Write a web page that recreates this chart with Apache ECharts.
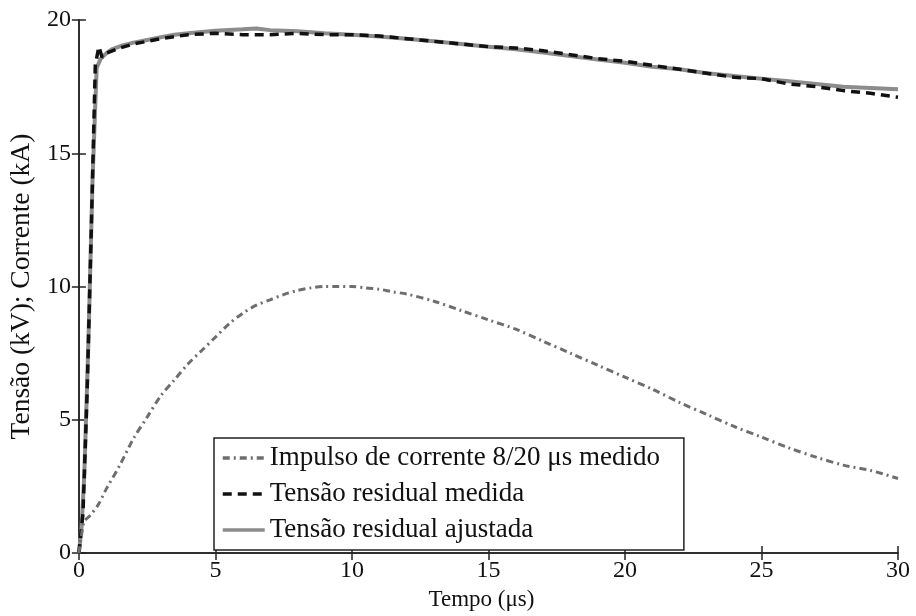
<!DOCTYPE html>
<html>
<head>
<meta charset="utf-8">
<script src="https://cdn.jsdelivr.net/npm/echarts@6/dist/echarts.min.js"></script>
<style>
  html, body { margin: 0; padding: 0; background: #fff; }
  #chart { width: 916px; height: 616px; }
</style>
</head>
<body>
<div id="chart"></div>
<script>
// Impulso de corrente 8/20 us (kA)
const currentTime = [0, 0.1, 0.2, 0.4, 0.7, 1, 1.5, 2, 2.5, 3, 3.5, 4, 4.5, 5, 5.5, 6, 6.5, 7, 7.5, 8, 8.5, 9, 9.5, 10, 10.5, 11, 11.5, 12, 13, 14, 15, 16, 17, 18, 19, 20, 21, 22, 23, 24, 25, 26, 27, 28, 29, 30]
const currentValues = [0, 0.7, 1.2, 1.4, 1.8, 2.4, 3.3, 4.3, 5.1, 5.9, 6.5, 7.1, 7.6, 8.1, 8.6, 9.0, 9.3, 9.5, 9.7, 9.85, 9.95, 10.0, 10.0, 10.0, 9.95, 9.9, 9.8, 9.72, 9.45, 9.1, 8.75, 8.4, 7.95, 7.5, 7.05, 6.6, 6.15, 5.65, 5.2, 4.75, 4.35, 3.95, 3.6, 3.3, 3.1, 2.8]

// Tensao residual medida (kV)
const measuredTime = [0, 0.15, 0.3, 0.45, 0.6, 0.73, 0.85, 1, 1.5, 2, 2.5, 3, 4, 5, 6, 7, 8, 9, 10, 11, 12, 13, 14, 15, 16, 17, 18, 19, 20, 21, 22, 23, 24, 25, 26, 27, 28, 29, 30]
const measuredValues = [0, 1.5, 6, 12, 18.3, 19.0, 18.6, 18.75, 18.95, 19.1, 19.2, 19.3, 19.45, 19.5, 19.45, 19.45, 19.5, 19.45, 19.45, 19.4, 19.3, 19.2, 19.1, 19.0, 18.95, 18.85, 18.7, 18.55, 18.45, 18.3, 18.15, 18.0, 17.85, 17.8, 17.6, 17.5, 17.35, 17.25, 17.1]

// Tensao residual ajustada (kV)
const fittedTime = [0, 0.1, 0.2, 0.35, 0.5, 0.65, 0.8, 1, 1.2, 1.6, 2, 2.5, 3, 3.5, 4, 5, 6, 6.5, 7, 8, 9, 10, 11, 12, 13, 14, 15, 16, 17, 18, 19, 20, 21, 22, 23, 24, 25, 26, 27, 28, 29, 30]
const fittedValues = [0, 1, 3, 8, 14, 18.2, 18.55, 18.75, 18.9, 19.05, 19.15, 19.25, 19.35, 19.45, 19.5, 19.6, 19.65, 19.68, 19.62, 19.58, 19.5, 19.45, 19.38, 19.3, 19.2, 19.1, 19.0, 18.9, 18.78, 18.65, 18.52, 18.4, 18.25, 18.15, 18.0, 17.9, 17.8, 17.7, 17.6, 17.5, 17.45, 17.4]

const seriesNames = ['Impulso de corrente 8/20 μs medido', 'Tensão residual medida', 'Tensão residual ajustada']

function pairs(xs, ys) {
  return xs.map((x, i) => [x, ys[i]])
}

const font = 'Liberation Serif'
const axisLineStyle = { color: '#222', width: 1.5 }

const chart = echarts.init(document.getElementById('chart'))
chart.setOption({
  backgroundColor: '#fff',
  animation: false,
  textStyle: { fontFamily: font, color: '#111' },
  grid: { left: 77, top: 20, right: 18, bottom: 56 },
  legend: {
    data: seriesNames,
    orient: 'vertical',
    left: 214,
    top: 438,
    padding: [5, 24, 5, 7],
    itemWidth: 42,
    itemHeight: 14,
    itemGap: 6,
    borderColor: '#222',
    borderWidth: 1.5,
    backgroundColor: '#fff',
    // only the line sample, no marker
    itemStyle: { opacity: 0 },
    lineStyle: { width: 3.5 },
    textStyle: { fontFamily: font, fontSize: 27, lineHeight: 30, color: '#111' }
  },
  xAxis: [{
    type: 'value',
    min: 0,
    max: 30,
    interval: 5,
    name: 'Tempo (μs)',
    nameLocation: 'middle',
    nameGap: 32,
    nameTextStyle: { fontFamily: font, fontSize: 23, color: '#111', padding: [0, 14, 0, 0] },
    axisLine: { lineStyle: axisLineStyle },
    axisTick: { inside: true, length: 7, lineStyle: axisLineStyle },
    axisLabel: { fontFamily: font, fontSize: 24, color: '#111', margin: 6 },
    splitLine: { show: false }
  }, {
    type: 'value',
    position: 'top',
    min: 0,
    max: 30,
    interval: 5,
    axisLine: { show: true, lineStyle: axisLineStyle },
    axisTick: { show: true, inside: true, length: 7, lineStyle: axisLineStyle },
    axisLabel: { show: false },
    splitLine: { show: false }
  }],
  yAxis: [{
    type: 'value',
    min: 0,
    max: 20,
    interval: 5,
    name: 'Tensão (kV); Corrente (kA)',
    nameLocation: 'middle',
    nameGap: 34,
    nameTextStyle: { fontFamily: font, fontSize: 27.5, color: '#111' },
    axisLine: { show: true, lineStyle: axisLineStyle },
    axisTick: { show: true, inside: true, length: 7, lineStyle: axisLineStyle },
    axisLabel: { fontFamily: font, fontSize: 24, color: '#111', margin: 8 },
    splitLine: { show: false }
  }, {
    type: 'value',
    position: 'right',
    min: 0,
    max: 20,
    interval: 5,
    axisLine: { show: true, lineStyle: axisLineStyle },
    axisTick: { show: true, inside: true, length: 7, lineStyle: axisLineStyle },
    axisLabel: { show: false },
    splitLine: { show: false }
  }],
  series: [{
    name: seriesNames[2],
    type: 'line',
    symbol: 'none',
    lineStyle: { color: '#8c8c8c', width: 4 },
    itemStyle: { color: '#8c8c8c' },
    data: pairs(fittedTime, fittedValues)
  }, {
    name: seriesNames[1],
    type: 'line',
    symbol: 'none',
    lineStyle: { color: '#111', width: 3.5, type: [9, 6] },
    itemStyle: { color: '#111' },
    data: pairs(measuredTime, measuredValues)
  }, {
    name: seriesNames[0],
    type: 'line',
    symbol: 'none',
    smooth: 0.3,
    lineStyle: { color: '#6e6e6e', width: 3, type: [7, 4, 2, 4] },
    itemStyle: { color: '#6e6e6e' },
    data: pairs(currentTime, currentValues)
  }]
})
</script>
</body>
</html>
